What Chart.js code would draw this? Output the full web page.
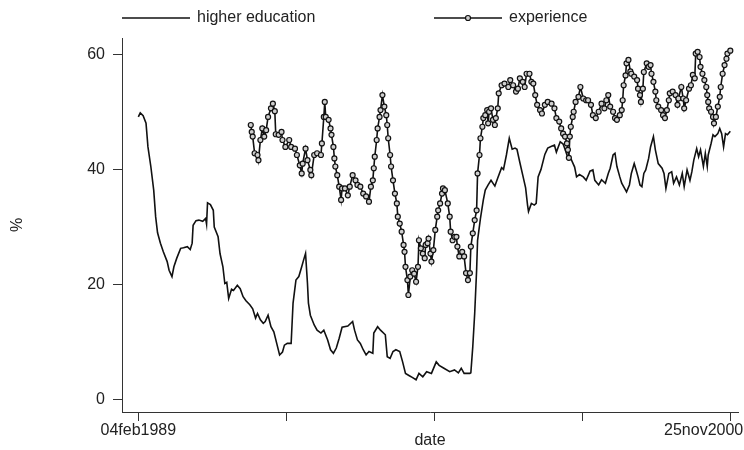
<!DOCTYPE html>
<html>
<head>
<meta charset="utf-8">
<script src="https://cdn.jsdelivr.net/npm/chart.js@4.4.1/dist/chart.umd.min.js"></script>
<style>
  html, body { margin: 0; padding: 0; background: #fff; }
</style>
</head>
<body>
<canvas id="chart" width="744" height="450"></canvas>
<script>
// weeks since 04feb1989 (weekly series, 616 weeks to 25nov2000)
const eduWeeks = [
  0, 2, 5, 8, 10, 13, 16, 18, 20, 23,
  26, 30, 32, 35, 37, 40, 44, 47, 51, 54,
  56, 57, 60, 63, 67, 70, 71, 72, 75, 78,
  79, 83, 85, 88, 90, 92, 94, 97, 99, 103,
  106, 109, 112, 116, 119, 122, 124, 127, 130, 132,
  135, 138, 141, 144, 147, 150, 152, 155, 159, 161,
  164, 167, 170, 172, 174, 176, 177, 179, 183, 186,
  190, 193, 197, 200, 203, 206, 209, 212, 218, 223,
  225, 228, 231, 234, 237, 240, 244, 245, 249, 252,
  257, 259, 262, 265, 268, 272, 275, 278, 282, 285,
  289, 292, 296, 300, 305, 310, 313, 318, 324, 329,
  333, 336, 339, 345, 346, 348, 350, 352, 353, 356,
  359, 361, 364, 367, 371, 374, 378, 380, 383, 386,
  389, 392, 394, 397, 400, 403, 405, 406, 409, 412,
  414, 416, 419, 423, 426, 430, 433, 435, 439, 442,
  444, 447, 450, 454, 456, 459, 463, 466, 470, 473,
  475, 479, 482, 486, 489, 491, 494, 496, 498, 501,
  503, 506, 508, 511, 513, 516, 518, 520, 522, 524,
  526, 528, 531, 533, 536, 538, 541, 545, 547, 549,
  552, 555, 557, 560, 563, 566, 568, 571, 574, 576,
  578, 581, 583, 585, 588, 590, 592, 593, 596, 598,
  600, 603, 605, 607, 609, 611, 613, 616
];
const eduValues = [
  49.1, 49.8, 49.3, 48.0, 43.9, 40.5, 36.4, 31.8, 29.0, 27.2,
  25.7, 24.0, 22.5, 21.4, 23.1, 24.6, 26.3, 26.4, 26.6, 26.1,
  27.2, 30.3, 31.1, 31.2, 31.0, 31.5, 30.5, 34.2, 33.9, 32.9,
  30.0, 28.3, 25.4, 23.1, 20.2, 20.4, 17.6, 19.2, 19.0, 19.9,
  19.3, 17.9, 17.2, 16.5, 15.8, 14.2, 15.0, 13.9, 13.3, 13.6,
  14.7, 12.7, 11.8, 9.8, 7.8, 8.3, 9.5, 9.8, 9.8, 16.8,
  20.8, 21.4, 23.1, 24.3, 25.4, 20.2, 16.8, 14.7, 13.0, 12.1,
  11.6, 12.1, 10.4, 8.7, 8.1, 9.0, 10.7, 12.6, 12.8, 13.6,
  12.1, 10.4, 9.8, 8.7, 7.8, 8.4, 8.1, 11.6, 12.7, 12.1,
  11.3, 7.5, 7.2, 8.4, 8.7, 8.4, 6.6, 4.6, 4.2, 3.9,
  3.5, 4.6, 4.0, 4.9, 4.6, 6.6, 6.0, 5.5, 4.9, 5.2,
  4.7, 5.5, 4.6, 4.6, 4.7, 9.2, 15.0, 22.5, 27.7, 31.5,
  34.7, 36.4, 37.3, 38.1, 37.1, 38.5, 40.3, 40.0, 42.5, 45.4,
  43.5, 43.7, 43.5, 41.2, 39.0, 36.8, 33.8, 32.7, 34.1, 33.8,
  34.1, 38.7, 40.0, 42.6, 43.7, 44.0, 44.2, 43.0, 44.8, 44.4,
  43.5, 42.0, 41.9, 40.4, 38.7, 39.1, 38.7, 38.1, 39.7, 39.9,
  38.1, 37.3, 38.2, 37.6, 39.3, 40.2, 42.5, 42.8, 40.5, 38.7,
  37.6, 36.7, 36.1, 37.3, 39.3, 41.0, 39.9, 38.7, 37.3, 37.0,
  39.3, 39.9, 41.9, 43.9, 45.7, 43.4, 41.0, 40.2, 39.3, 36.7,
  39.3, 39.6, 37.6, 38.7, 37.3, 39.3, 37.0, 39.9, 38.1, 39.6,
  41.6, 43.6, 42.2, 43.4, 40.5, 42.8, 40.5, 42.5, 44.5, 46.0,
  45.7, 46.2, 47.1, 46.2, 43.9, 46.2, 46.0, 46.6
];

const expWeeks = [
  117, 118, 119, 121, 124, 125, 127, 129, 131, 133,
  135, 138, 140, 142, 143, 146, 149, 150, 153, 157,
  159, 163, 165, 168, 170, 171, 174, 176, 179, 180,
  183, 186, 190, 191, 193, 194, 195, 198, 200, 201,
  203, 204, 205, 207, 209, 211, 212, 215, 218, 220,
  223, 226, 228, 231, 234, 237, 240, 242, 244, 245,
  246, 248, 249, 251, 252, 254, 256, 258, 259, 260,
  262, 263, 265, 267, 269, 270, 272, 274, 276, 277,
  278, 280, 281, 283, 285, 287, 289, 291, 292, 294,
  296, 298, 299, 301, 302, 304, 305, 307, 309, 311,
  312, 314, 316, 317, 319, 322, 324, 325, 327, 329,
  331, 332, 334, 337, 339, 341, 343, 345, 346, 348,
  350, 352, 353, 355, 356, 358, 359, 361, 363, 364,
  365, 367, 369, 371, 372, 374, 375, 378, 381, 385,
  387, 390, 393, 395, 397, 400, 402, 404, 407, 409,
  411, 413, 415, 418, 420, 423, 426, 430, 433, 435,
  438, 440, 442, 444, 446, 447, 448, 449, 450, 452,
  453, 455, 458, 460, 463, 466, 468, 471, 473, 476,
  479, 482, 485, 487, 489, 491, 494, 496, 498, 501,
  503, 504, 505, 507, 508, 510, 512, 513, 516, 519,
  520, 522, 523, 525, 526, 529, 531, 533, 534, 536,
  538, 539, 541, 544, 546, 548, 550, 552, 553, 556,
  559, 561, 562, 565, 567, 568, 570, 573, 575, 577,
  579, 580, 582, 584, 585, 587, 589, 591, 592, 593,
  594, 596, 598, 599, 601, 603, 605, 606, 608, 610,
  612, 613, 616
];
const expValues = [
  47.7, 46.5, 45.7, 42.8, 42.5, 41.6, 45.1, 47.1, 45.7, 46.8,
  49.1, 50.6, 51.4, 50.1, 46.1, 46.0, 46.5, 45.1, 43.9, 45.1,
  43.9, 43.6, 42.5, 40.7, 39.3, 41.0, 43.6, 41.6, 39.9, 39.0,
  42.5, 42.8, 42.5, 44.5, 49.1, 51.7, 49.1, 48.6, 47.1, 46.0,
  43.9, 41.9, 40.5, 39.0, 37.0, 34.7, 36.7, 36.7, 35.5, 37.0,
  39.0, 38.1, 37.3, 37.0, 35.8, 35.3, 34.4, 37.0, 38.1, 40.2,
  42.2, 45.1, 47.1, 49.1, 50.3, 52.9, 50.9, 49.4, 47.7, 45.4,
  42.5, 40.5, 38.1, 35.8, 34.1, 31.8, 30.6, 29.2, 26.9, 25.7,
  23.1, 20.8, 18.2, 21.4, 22.5, 21.9, 20.5, 23.1, 27.7, 26.3,
  25.4, 24.6, 26.9, 27.2, 28.0, 25.4, 24.0, 26.0, 29.5, 31.8,
  32.9, 34.1, 35.8, 36.7, 36.4, 34.1, 31.8, 29.2, 27.7, 28.3,
  28.3, 26.6, 24.9, 25.7, 24.9, 22.0, 20.8, 22.0, 26.6, 28.9,
  31.2, 32.9, 39.3, 42.5, 45.4, 47.4, 48.9, 49.4, 50.3, 48.0,
  50.0, 50.6, 48.6, 47.7, 48.9, 50.6, 53.2, 54.6, 54.9, 54.3,
  55.5, 54.6, 53.5, 54.0, 55.8, 55.2, 54.3, 56.6, 56.6, 55.2,
  54.9, 52.9, 51.2, 50.3, 49.7, 51.2, 51.7, 51.4, 50.6, 48.9,
  48.3, 47.1, 46.2, 45.7, 44.5, 43.4, 42.0, 45.7, 47.4, 49.1,
  50.0, 51.7, 52.6, 54.3, 52.3, 52.0, 52.0, 51.2, 49.4, 48.9,
  50.0, 51.4, 50.6, 52.0, 52.9, 50.9, 50.0, 48.9, 48.6, 49.4,
  50.3, 52.0, 54.6, 56.3, 58.4, 59.0, 57.0, 56.6, 56.1, 55.5,
  54.0, 52.9, 51.7, 54.0, 56.9, 58.4, 57.8, 58.1, 56.6, 55.2,
  53.5, 52.0, 50.9, 50.3, 49.4, 48.9, 50.3, 52.0, 53.2, 53.5,
  52.9, 51.2, 52.3, 54.3, 52.3, 50.6, 52.0, 54.0, 54.6, 56.4,
  55.8, 60.1, 60.4, 59.5, 57.8, 56.6, 55.5, 54.3, 52.9, 51.7,
  50.6, 50.0, 49.1, 48.0, 49.1, 50.9, 52.6, 54.3, 56.6, 58.1,
  59.2, 60.1, 60.6
];

const xTickWeeks = [0, 154, 308, 462, 616];
const xTickLabels = ["04feb1989", "", "", "", "25nov2000"];
const yTicks = [0, 20, 40, 60];

const ink = "#111";
const axisColor = "#333";
const font = { family: "'Liberation Sans', Arial, sans-serif", size: 16 };

// legend drawn like the original: line sample (with marker) then text
const legendBox = { y: 18, lineLen: 68, gap: 7, starts: [122, 434] };
const lineLegend = {
  id: "lineLegend",
  afterDraw(chart) {
    const ctx = chart.ctx;
    chart.data.datasets.forEach((ds, i) => {
      const x0 = legendBox.starts[i];
      const y = legendBox.y;
      ctx.save();
      ctx.strokeStyle = ds.borderColor;
      ctx.lineWidth = ds.borderWidth;
      ctx.beginPath();
      ctx.moveTo(x0, y);
      ctx.lineTo(x0 + legendBox.lineLen, y);
      ctx.stroke();
      if (ds.pointRadius > 0) {
        ctx.beginPath();
        ctx.arc(x0 + legendBox.lineLen / 2, y, ds.pointRadius, 0, Math.PI * 2);
        ctx.fillStyle = ds.pointBackgroundColor;
        ctx.fill();
        ctx.lineWidth = ds.pointBorderWidth;
        ctx.strokeStyle = ds.pointBorderColor;
        ctx.stroke();
      }
      ctx.fillStyle = "#222";
      ctx.font = font.size + "px " + font.family;
      ctx.textAlign = "left";
      ctx.textBaseline = "middle";
      ctx.fillText(ds.label, x0 + legendBox.lineLen + legendBox.gap, y);
      ctx.restore();
    });
  }
};

const eduPoints = eduWeeks.map((w, i) => ({ x: w, y: eduValues[i] }));
const expPoints = expWeeks.map((w, i) => ({ x: w, y: expValues[i] }));

new Chart(document.getElementById("chart"), {
  type: "line",
  data: {
    datasets: [
      {
        label: "higher education",
        data: eduPoints,
        borderColor: ink,
        borderWidth: 1.6,
        pointRadius: 0,
        tension: 0,
        order: 1
      },
      {
        label: "experience",
        data: expPoints,
        borderColor: ink,
        borderWidth: 1.6,
        pointRadius: 2.5,
        pointBorderWidth: 1.2,
        pointBorderColor: ink,
        pointBackgroundColor: "#cfcfcf",
        tension: 0,
        order: 0
      }
    ]
  },
  options: {
    responsive: false,
    animation: false,
    devicePixelRatio: 1,
    layout: { padding: { top: 38, right: 6, bottom: 0, left: 0 } },
    plugins: {
      legend: { display: false },
      tooltip: { enabled: false }
    },
    scales: {
      x: {
        type: "linear",
        min: -17,
        max: 624,
        afterBuildTicks: (scale) => {
          scale.ticks = xTickWeeks.map((v) => ({ value: v }));
        },
        afterFit: (scale) => {
          scale.height = 38;
          scale.paddingLeft = 0;
          scale.paddingRight = 0;
        },
        ticks: {
          autoSkip: false,
          maxRotation: 0,
          padding: 0,
          color: "#222",
          font: font,
          callback: (value, i) => {
            const label = xTickLabels[xTickWeeks.indexOf(value)];
            // last label is pushed inside the frame, as in the original
            return i === xTickWeeks.length - 1 ? label + "\u00a0".repeat(12) : label;
          }
        },
        grid: { drawOnChartArea: false, tickLength: 9, color: axisColor },
        border: { color: axisColor, width: 1 },
        title: { display: true, text: "date", color: "#222", font: font, padding: { top: 0, bottom: 0 } }
      },
      y: {
        min: -2.1,
        max: 62.8,
        afterBuildTicks: (scale) => {
          scale.ticks = yTicks.map((v) => ({ value: v }));
        },
        afterFit: (scale) => {
          scale.width = 122;
        },
        ticks: { padding: 8, color: "#222", font: font },
        grid: { drawOnChartArea: false, tickLength: 9, color: axisColor },
        border: { color: axisColor, width: 1 },
        title: { display: true, text: "%", color: "#222", font: font, padding: { top: 8, bottom: 0 } }
      }
    }
  },
  plugins: [lineLegend]
});
</script>
</body>
</html>
